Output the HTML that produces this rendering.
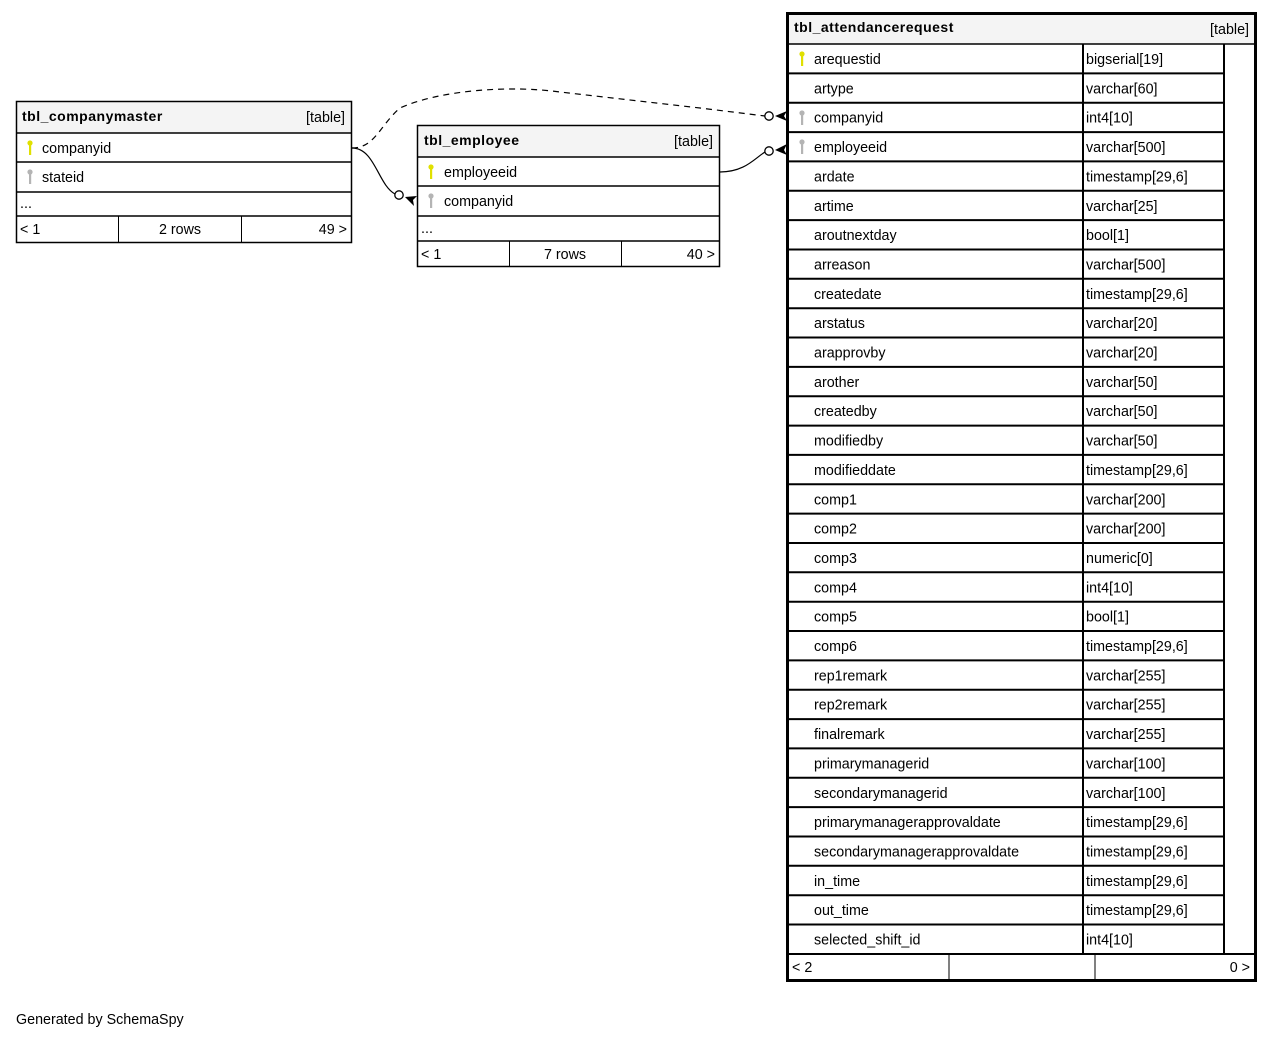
<!DOCTYPE html>
<html><head><meta charset="utf-8"><style>
html,body{margin:0;padding:0;background:#fff;}
svg{display:block;}
text{font-family:"Liberation Sans",Arial,sans-serif;font-size:14.3px;fill:#000;}
.b{font-weight:bold;font-size:14px;letter-spacing:0.5px;}
</style></head><body>
<svg width="1275" height="1039" viewBox="0 0 1275 1039" xmlns="http://www.w3.org/2000/svg">
<defs>
<g id="ky"><circle cx="0" cy="-5" r="2.6" fill="#e0e000"/><rect x="-1" y="-4" width="2.2" height="11" fill="#e0e000"/></g>
<g id="kg"><circle cx="0" cy="-5" r="2.6" fill="#b4b4b4"/><rect x="-1" y="-4" width="2.2" height="11" fill="#b4b4b4"/></g>
</defs>

<path d="M352,148 C375,148 380,125 400,108 C440,90 510,85 560,92 L700,108 L765,116" fill="none" stroke="#000" stroke-width="1.2" stroke-dasharray="6,5"/>
<path d="M352,148 C375,148 378,185 395,194" fill="none" stroke="#000" stroke-width="1.2"/>
<path d="M720,172 C745,172 755,158 765,152" fill="none" stroke="#000" stroke-width="1.2"/>
<circle cx="769" cy="116" r="4.2" fill="#fff" stroke="#000" stroke-width="1.3"/>
<circle cx="769" cy="151" r="4.2" fill="#fff" stroke="#000" stroke-width="1.3"/>
<circle cx="399" cy="195" r="4.2" fill="#fff" stroke="#000" stroke-width="1.3"/>
<path d="M775,116 L787,111 L784,116 L787,121 Z" fill="#000"/>
<path d="M775,150 L787,144 L784,150 L787,155 Z" fill="#000"/>
<path d="M405,197 L417,196 L413,200 L414,206 Z" fill="#000"/>

<rect x="16.5" y="101.5" width="335" height="141" fill="#fff" stroke="#000" stroke-width="1.5"/>
<rect x="17.5" y="102.5" width="333" height="30" fill="#f4f4f4"/>
<line x1="16" y1="133" x2="352" y2="133" stroke="#000" stroke-width="1.5"/>
<line x1="16" y1="162" x2="352" y2="162" stroke="#000" stroke-width="1.5"/>
<line x1="16" y1="192" x2="352" y2="192" stroke="#000" stroke-width="1.5"/>
<line x1="16" y1="216" x2="352" y2="216" stroke="#000" stroke-width="1.5"/>
<line x1="118.5" y1="216" x2="118.5" y2="243" stroke="#000"/>
<line x1="241.5" y1="216" x2="241.5" y2="243" stroke="#000"/>
<text x="22" y="121" class="b">tbl_companymaster</text>
<text x="345" y="122" text-anchor="end">[table]</text>
<use href="#ky" x="30" y="148"/><text x="42" y="153">companyid</text>
<use href="#kg" x="30" y="177"/><text x="42" y="182">stateid</text>
<text x="20" y="208">...</text>
<text x="20" y="234">&lt; 1</text>
<text x="180" y="234" text-anchor="middle">2 rows</text>
<text x="347" y="234" text-anchor="end">49 &gt;</text>

<rect x="417.5" y="125.5" width="302" height="141" fill="#fff" stroke="#000" stroke-width="1.5"/>
<rect x="418.5" y="126.5" width="300" height="30" fill="#f4f4f4"/>
<line x1="417" y1="157" x2="720" y2="157" stroke="#000" stroke-width="1.5"/>
<line x1="417" y1="186" x2="720" y2="186" stroke="#000" stroke-width="1.5"/>
<line x1="417" y1="216" x2="720" y2="216" stroke="#000" stroke-width="1.5"/>
<line x1="417" y1="241" x2="720" y2="241" stroke="#000" stroke-width="1.5"/>
<line x1="509.5" y1="241" x2="509.5" y2="267" stroke="#000"/>
<line x1="621.5" y1="241" x2="621.5" y2="267" stroke="#000"/>
<text x="424" y="145" class="b">tbl_employee</text>
<text x="713" y="146" text-anchor="end">[table]</text>
<use href="#ky" x="431" y="172"/><text x="444" y="177">employeeid</text>
<use href="#kg" x="431" y="201"/><text x="444" y="206">companyid</text>
<text x="421" y="233">...</text>
<text x="421" y="259">&lt; 1</text>
<text x="565" y="259" text-anchor="middle">7 rows</text>
<text x="715" y="259" text-anchor="end">40 &gt;</text>

<rect x="787.5" y="13.5" width="468" height="967" fill="#fff" stroke="#000" stroke-width="3"/>
<rect x="789" y="15" width="465" height="29" fill="#f4f4f4"/>
<line x1="787" y1="44" x2="1256" y2="44" stroke="#000" stroke-width="1.5"/>
<text x="794" y="32" class="b">tbl_attendancerequest</text>
<text x="1249" y="34" text-anchor="end">[table]</text>
<g stroke="#000" stroke-width="2">
<line x1="1083" y1="44" x2="1083" y2="954"/>
<line x1="1224" y1="44" x2="1224" y2="954"/>
<line x1="789" y1="73.4" x2="1224" y2="73.4"/>
<line x1="789" y1="102.7" x2="1224" y2="102.7"/>
<line x1="789" y1="132.1" x2="1224" y2="132.1"/>
<line x1="789" y1="161.4" x2="1224" y2="161.4"/>
<line x1="789" y1="190.8" x2="1224" y2="190.8"/>
<line x1="789" y1="220.1" x2="1224" y2="220.1"/>
<line x1="789" y1="249.5" x2="1224" y2="249.5"/>
<line x1="789" y1="278.8" x2="1224" y2="278.8"/>
<line x1="789" y1="308.2" x2="1224" y2="308.2"/>
<line x1="789" y1="337.5" x2="1224" y2="337.5"/>
<line x1="789" y1="366.9" x2="1224" y2="366.9"/>
<line x1="789" y1="396.2" x2="1224" y2="396.2"/>
<line x1="789" y1="425.6" x2="1224" y2="425.6"/>
<line x1="789" y1="454.9" x2="1224" y2="454.9"/>
<line x1="789" y1="484.3" x2="1224" y2="484.3"/>
<line x1="789" y1="513.6" x2="1224" y2="513.6"/>
<line x1="789" y1="543" x2="1224" y2="543"/>
<line x1="789" y1="572.3" x2="1224" y2="572.3"/>
<line x1="789" y1="601.7" x2="1224" y2="601.7"/>
<line x1="789" y1="631" x2="1224" y2="631"/>
<line x1="789" y1="660.4" x2="1224" y2="660.4"/>
<line x1="789" y1="689.7" x2="1224" y2="689.7"/>
<line x1="789" y1="719.1" x2="1224" y2="719.1"/>
<line x1="789" y1="748.4" x2="1224" y2="748.4"/>
<line x1="789" y1="777.8" x2="1224" y2="777.8"/>
<line x1="789" y1="807.1" x2="1224" y2="807.1"/>
<line x1="789" y1="836.5" x2="1224" y2="836.5"/>
<line x1="789" y1="865.8" x2="1224" y2="865.8"/>
<line x1="789" y1="895.2" x2="1224" y2="895.2"/>
<line x1="789" y1="924.5" x2="1224" y2="924.5"/>
<line x1="789" y1="954" x2="1254" y2="954"/>
</g>
<line x1="949" y1="954" x2="949" y2="980" stroke="#000" stroke-width="1"/>
<line x1="1095" y1="954" x2="1095" y2="980" stroke="#000" stroke-width="1"/>
<use href="#ky" x="802" y="59"/>
<use href="#kg" x="802" y="118"/>
<use href="#kg" x="802" y="147"/>
<g>
<text x="814" y="64">arequestid</text><text x="1086" y="64">bigserial[19]</text>
<text x="814" y="93.4">artype</text><text x="1086" y="93.4">varchar[60]</text>
<text x="814" y="122.7">companyid</text><text x="1086" y="122.7">int4[10]</text>
<text x="814" y="152.1">employeeid</text><text x="1086" y="152.1">varchar[500]</text>
<text x="814" y="181.4">ardate</text><text x="1086" y="181.4">timestamp[29,6]</text>
<text x="814" y="210.8">artime</text><text x="1086" y="210.8">varchar[25]</text>
<text x="814" y="240.1">aroutnextday</text><text x="1086" y="240.1">bool[1]</text>
<text x="814" y="269.5">arreason</text><text x="1086" y="269.5">varchar[500]</text>
<text x="814" y="298.8">createdate</text><text x="1086" y="298.8">timestamp[29,6]</text>
<text x="814" y="328.2">arstatus</text><text x="1086" y="328.2">varchar[20]</text>
<text x="814" y="357.5">arapprovby</text><text x="1086" y="357.5">varchar[20]</text>
<text x="814" y="386.9">arother</text><text x="1086" y="386.9">varchar[50]</text>
<text x="814" y="416.2">createdby</text><text x="1086" y="416.2">varchar[50]</text>
<text x="814" y="445.6">modifiedby</text><text x="1086" y="445.6">varchar[50]</text>
<text x="814" y="474.9">modifieddate</text><text x="1086" y="474.9">timestamp[29,6]</text>
<text x="814" y="504.3">comp1</text><text x="1086" y="504.3">varchar[200]</text>
<text x="814" y="533.6">comp2</text><text x="1086" y="533.6">varchar[200]</text>
<text x="814" y="563">comp3</text><text x="1086" y="563">numeric[0]</text>
<text x="814" y="592.3">comp4</text><text x="1086" y="592.3">int4[10]</text>
<text x="814" y="621.7">comp5</text><text x="1086" y="621.7">bool[1]</text>
<text x="814" y="651">comp6</text><text x="1086" y="651">timestamp[29,6]</text>
<text x="814" y="680.4">rep1remark</text><text x="1086" y="680.4">varchar[255]</text>
<text x="814" y="709.7">rep2remark</text><text x="1086" y="709.7">varchar[255]</text>
<text x="814" y="739.1">finalremark</text><text x="1086" y="739.1">varchar[255]</text>
<text x="814" y="768.4">primarymanagerid</text><text x="1086" y="768.4">varchar[100]</text>
<text x="814" y="797.8">secondarymanagerid</text><text x="1086" y="797.8">varchar[100]</text>
<text x="814" y="827.1">primarymanagerapprovaldate</text><text x="1086" y="827.1">timestamp[29,6]</text>
<text x="814" y="856.5">secondarymanagerapprovaldate</text><text x="1086" y="856.5">timestamp[29,6]</text>
<text x="814" y="885.8">in_time</text><text x="1086" y="885.8">timestamp[29,6]</text>
<text x="814" y="915.2">out_time</text><text x="1086" y="915.2">timestamp[29,6]</text>
<text x="814" y="944.5">selected_shift_id</text><text x="1086" y="944.5">int4[10]</text>
</g>
<text x="792" y="972">&lt; 2</text>
<text x="1250" y="972" text-anchor="end">0 &gt;</text>

<text x="16" y="1024">Generated by SchemaSpy</text>
</svg>
</body></html>
